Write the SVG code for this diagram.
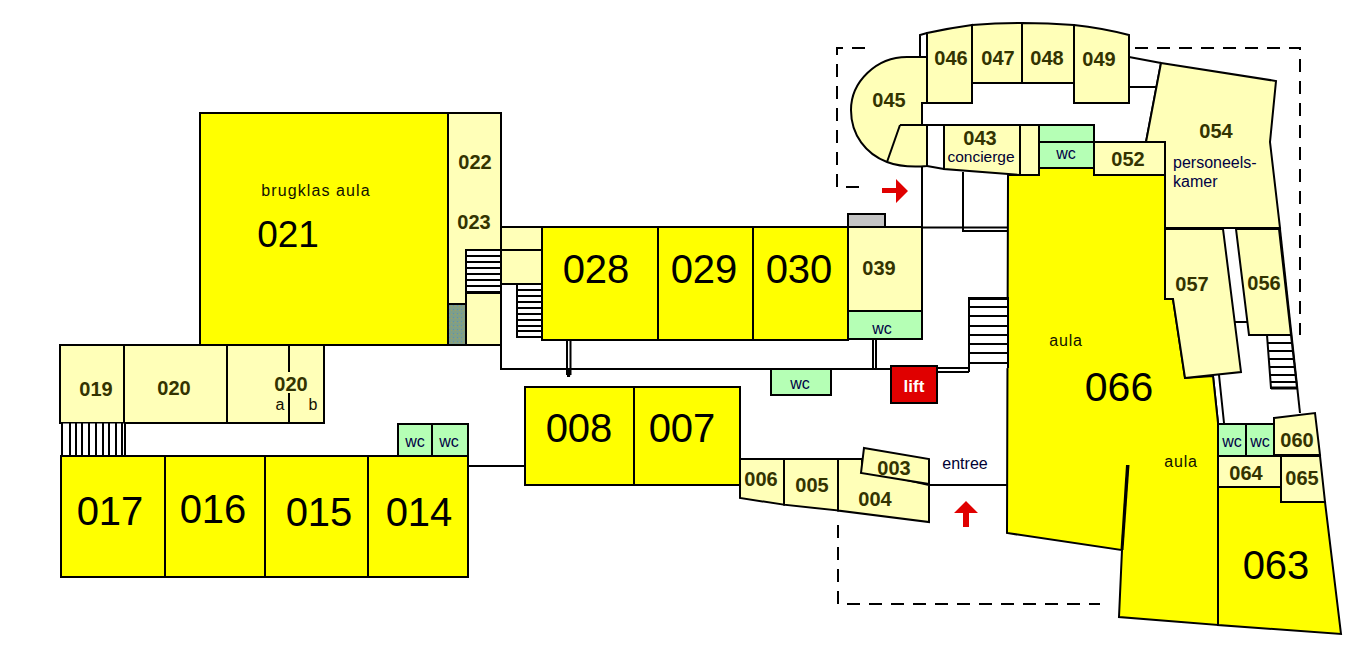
<svg xmlns="http://www.w3.org/2000/svg" width="1355" height="666" viewBox="0 0 1355 666">
<style>
.y{fill:#ffff00;stroke:#000;stroke-width:2;stroke-linejoin:miter}
.p{fill:#ffffb8;stroke:#000;stroke-width:2}
.g{fill:#b5ffb5;stroke:#000;stroke-width:2}
.w{fill:#fff;stroke:#000;stroke-width:2}
.l{fill:none;stroke:#000;stroke-width:2}
.d{fill:none;stroke:#000;stroke-width:2;stroke-dasharray:13 9}
text{font-family:"Liberation Sans",Arial,sans-serif;text-anchor:middle}
.n{font-size:20px;font-weight:bold;fill:#333300}
.b{font-size:40px;fill:#000}
.t{font-size:16px;fill:#111100;letter-spacing:.8px}
.c{font-size:16px;fill:#000044}
</style>
<defs><pattern id="lift-shaft" width="4" height="4" patternUnits="userSpaceOnUse"><rect width="4" height="4" fill="#7f9f88"/><rect width="1" height="1" x="1" y="1" fill="#5f8fb0"/><rect width="1" height="1" x="3" y="2" fill="#a0a060"/></pattern></defs>
<rect width="1355" height="666" fill="#fff"/>

<g id="connectors">
<path class="d" d="M865 48H837V187H865"/>
<path class="d" d="M1135 48H1300V335"/>
<path class="d" d="M838 525V604H1100"/>
<path class="l" d="M920 57V35L927 33"/>
<path class="l" d="M501 345V369H891"/>
<path class="l" d="M885 227.500H1008"/>
<path class="l" d="M922 166V227M963 172V231H1008"/>
<path class="l" d="M937 368H969M937 372H969"/>
<path class="l" d="M567 340V375M570.500 340V375"/>
<path d="M567 369H571L570 377H567Z"/>
<path class="l" d="M873 339V368M876 339V368"/>
<path class="l" d="M468 466H525"/>
<path class="l" d="M929 485H1008"/>
<path class="l" d="M1129 57L1161 63M1129 87H1156M1161 63L1146 142"/>
<path class="l" d="M1280 229L1300 413"/>
<path class="l" d="M1234 322H1247"/>
<path class="l" d="M1213 376L1218 423M1219 375L1224 423"/>
</g>

<g id="room-066"><path class="y" d="M1008 175H1039V168H1094V175H1165V299H1173L1185 378L1213 376L1218 423V625L1119 617L1122 550L1007 533Z"/><path d="M1126 465H1129.500L1123.500 550H1120.500Z"/>
<text class="t" x="1066" y="346">aula</text><text class="b" x="1119" y="401" style="font-size:41px">066</text><text class="t" x="1181" y="467">aula</text></g>

<g id="room-021"><rect class="y" x="200" y="113" width="248" height="232"/><text class="b" x="288" y="247" style="font-size:37px">021</text><text class="t" x="316" y="196" style="letter-spacing:1.100px">brugklas aula</text></g>
<g id="room-022"><rect class="p" x="448" y="113" width="53" height="232"/><text class="n" x="475" y="169">022</text><text class="n" x="474" y="229">023</text></g>
<g id="shaft"><rect x="448" y="304" width="18" height="41" fill="url(#lift-shaft)" stroke="#000" stroke-width="2"/></g>
<g id="stairs-a"><path class="w" d="M466 345V250H501V293H466"/><path class="l" d="M466 256H501M466 262H501M466 268H501M466 274H501M466 280H501M466 286H501M466 292H501"/></g>
<g id="corridor-a"><path class="p" d="M501 227H542V284H501Z"/><path class="l" d="M501 250H542"/></g>
<g id="stairs-b"><rect class="w" x="517" y="284" width="25" height="53"/><path class="l" d="M517 290H542M517 296H542M517 302H542M517 308H542M517 314H542M517 320H542M517 326H542M517 331H542"/></g>
<g id="room-028"><rect class="y" x="542" y="227" width="116" height="113"/><text class="b" x="596" y="283">028</text></g>
<g id="room-029"><rect class="y" x="658" y="227" width="95" height="113"/><text class="b" x="704" y="283">029</text></g>
<g id="room-030"><rect class="y" x="753" y="227" width="95" height="113"/><text class="b" x="799" y="283">030</text></g>
<g id="grey-box"><rect x="848" y="214" width="37" height="13" fill="#c4c4c4" stroke="#000" stroke-width="2"/></g>
<g id="room-039"><rect class="p" x="848" y="227" width="74" height="84"/><text class="n" x="879" y="275">039</text></g>
<g id="wc-039"><rect class="g" x="848" y="311" width="74" height="28"/><text class="c" x="882" y="334">wc</text></g>
<g id="wc-corridor"><rect class="g" x="771" y="369" width="60" height="26"/><text class="c" x="800" y="389">wc</text></g>
<g id="lift"><rect x="891" y="366" width="46" height="37" fill="#e00000" stroke="#000" stroke-width="2"/><text x="914" y="392" style="font-size:17px;font-weight:bold;fill:#fff">lift</text></g>
<g id="stairs-c"><path class="w" d="M969 372V298H1008V368"/><path class="l" d="M969 299H1008M969 307H1008M969 316H1008M969 326H1008M969 335H1008M969 344H1008M969 353H1008M969 363H1008"/></g>

<g id="room-019"><rect class="p" x="60" y="345" width="64" height="78"/><text class="n" x="96" y="396">019</text></g>
<g id="room-020"><rect class="p" x="124" y="345" width="103" height="78"/><text class="n" x="174" y="395">020</text></g>
<g id="room-020ab"><rect class="p" x="227" y="345" width="97" height="78"/><path class="l" d="M289 345V372M289 393V423"/><text class="n" x="291" y="391">020</text><text class="t" x="280" y="410" style="letter-spacing:0">a</text><text class="t" x="313" y="410" style="letter-spacing:0">b</text></g>
<g id="stairs-d"><rect class="w" x="62" y="423" width="63" height="33" style="stroke-width:1"/><path class="l" d="M62 423V456M70 423V456M76 423V456M82 423V456M89 423V456M96 423V456M103 423V456M109 423V456M116 423V456M122 423V456M125 423V456"/></g>
<g id="room-017"><rect class="y" x="61" y="456" width="104" height="121"/><text class="b" x="110" y="525">017</text></g>
<g id="room-016"><rect class="y" x="165" y="456" width="100" height="121"/><text class="b" x="213" y="523">016</text></g>
<g id="room-015"><rect class="y" x="265" y="456" width="103" height="121"/><text class="b" x="319" y="526">015</text></g>
<g id="room-014"><rect class="y" x="368" y="456" width="100" height="121"/><text class="b" x="419" y="526">014</text></g>
<g id="wc-014a"><rect class="g" x="398" y="424" width="34" height="32"/><text class="c" x="415" y="447">wc</text></g>
<g id="wc-014b"><rect class="g" x="432" y="424" width="36" height="32"/><text class="c" x="449" y="447">wc</text></g>

<g id="room-008"><rect class="y" x="525" y="387" width="109" height="98"/><text class="b" x="579" y="442">008</text></g>
<g id="room-007"><rect class="y" x="634" y="387" width="106" height="98"/><text class="b" x="682" y="442">007</text></g>
<g id="room-006"><path class="p" d="M740 459H784V504.700L740 498Z"/><text class="n" x="761" y="486">006</text></g>
<g id="room-005"><path class="p" d="M784 459H838V510.500L784 504.700Z"/><text class="n" x="812" y="492">005</text></g>
<g id="room-004"><path class="p" d="M838 459H862V470L929 485V522L838 510.500Z"/><text class="n" x="875" y="506">004</text></g>
<g id="room-003"><path class="p" d="M864 448L929 459V484L861 473Z"/><text class="n" x="894" y="475">003</text></g>
<g id="entree"><text class="c" x="965" y="469" style="fill:#000033">entree</text><path d="M966 501L978 513H969V527H963V513H954Z" fill="#e00000"/></g>
<path id="arrow-right" d="M882 188H896V179L908 191L896 203V193H882Z" fill="#e00000"/>

<g id="room-045"><path class="p" d="M927 57H907C876 57 851 82 851 110C851 135 866 154 887 162C900 167 915 167 927 166V125H922V103H927Z"/><path class="l" d="M900 125L887 162"/><path class="l" d="M900 125H927"/><text class="n" x="889" y="107">045</text></g>
<g id="room-046"><path class="p" d="M927 33Q950 28 972 25V103H927Z"/><text class="n" x="951" y="65">046</text></g>
<g id="room-047"><path class="p" d="M972 25Q997 23 1022 23V83H972Z"/><text class="n" x="998" y="65">047</text></g>
<g id="room-048"><path class="p" d="M1022 23Q1048 23 1074 25V83H1022Z"/><text class="n" x="1047" y="65">048</text></g>
<g id="room-049"><path class="p" d="M1074 25Q1102 28 1129 35V103H1074Z"/><text class="n" x="1099" y="66">049</text></g>
<g id="gap-043"><path class="l" d="M927 125H944M927 166L944 169"/></g>
<g id="room-043"><path class="p" d="M944 125H1020V175L944 169Z"/><text class="n" x="980" y="145">043</text><text class="c" x="981" y="162" style="fill:#000033;font-size:15.500px">concierge</text></g>
<g id="room-043b"><path class="p" d="M1020 125H1039V175H1020Z"/></g>
<g id="wc-052a"><rect class="g" x="1039" y="125" width="55" height="17"/></g>
<g id="wc-052b"><rect class="g" x="1039" y="142" width="55" height="26"/><text class="c" x="1066" y="159">wc</text></g>
<g id="room-054"><path class="p" d="M1161 63L1276 81L1270 142L1280 228H1165V142H1146Z"/><text class="n" x="1216" y="138">054</text><text class="c" x="1173" y="168" style="text-anchor:start">personeels-</text><text class="c" x="1173" y="187" style="text-anchor:start">kamer</text></g>
<g id="room-052"><rect class="p" x="1094" y="142" width="71" height="33"/><text class="n" x="1128" y="166">052</text></g>
<g id="room-057"><path class="p" d="M1165 229H1223L1241 372L1185 378L1173 299H1165Z"/><text class="n" x="1192" y="291">057</text></g>
<g id="room-056"><path class="p" d="M1236 229H1279L1291 335H1249Z"/><text class="n" x="1264" y="290">056</text></g>
<g id="stairs-e"><path class="w" d="M1267 335H1291L1297 388H1271Z"/><path class="l" d="M1268 343H1292M1269 351H1293M1269 359H1294M1270 367H1295M1270 375H1296M1271 382H1296"/><path class="l" d="M1271 388H1297" style="stroke-width:3"/></g>
<g id="room-063"><path class="y" d="M1218 487H1281V502H1325L1341 634L1218 625Z"/><text class="b" x="1276" y="579">063</text></g>
<g id="room-064"><rect class="p" x="1218" y="456" width="63" height="31"/><text class="n" x="1246" y="480">064</text></g>
<g id="room-065"><path class="p" d="M1281 456H1320L1325 502H1281Z"/><text class="n" x="1302" y="485">065</text></g>
<g id="wc-060a"><rect class="g" x="1218" y="424" width="28" height="32"/><text class="c" x="1232" y="447">wc</text></g>
<g id="wc-060b"><rect class="g" x="1246" y="424" width="28" height="32"/><text class="c" x="1260" y="447">wc</text></g>
<g id="room-060"><path class="p" d="M1274 418L1315 413L1320 455H1274Z"/><text class="n" x="1297" y="447">060</text></g>
</svg>
